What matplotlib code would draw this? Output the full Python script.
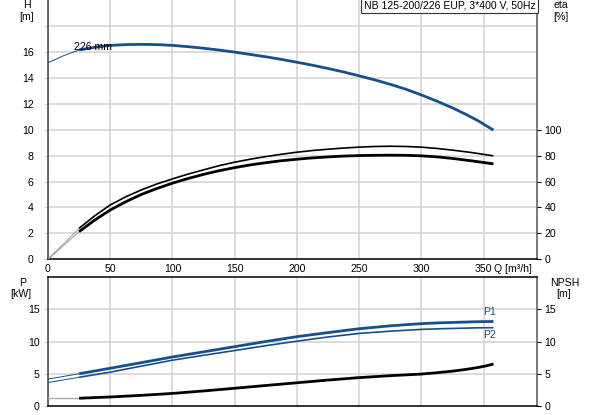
import matplotlib
matplotlib.use("Agg")
import matplotlib.pyplot as plt

plt.rcParams["font.family"] = ["Liberation Sans", "DejaVu Sans"]

BLUE = "#16508c"
GRID = "#d2d2d2"
FS = 7.6

# --- data ---
title = "NB 125-200/226 EUP, 3*400 V, 50Hz"

q_h = [0, 12.5, 25, 37.5, 50, 62.5, 75, 87.5, 100, 112.5, 125, 137.5, 150, 162.5, 175,
       187.5, 200, 212.5, 225, 237.5, 250, 262.5, 275, 287.5, 300, 312.5, 325, 335, 345, 358]
head = [15.15, 15.7, 16.15, 16.35, 16.5, 16.56, 16.58, 16.56, 16.5, 16.4, 16.28, 16.14,
        15.98, 15.8, 15.62, 15.42, 15.2, 14.97, 14.72, 14.45, 14.15, 13.84, 13.5, 13.12,
        12.68, 12.2, 11.68, 11.22, 10.72, 9.96]

q_eta = [0, 25, 37.5, 50, 62.5, 75, 87.5, 100, 112.5, 125, 137.5, 150, 162.5, 175, 187.5,
         200, 212.5, 225, 237.5, 250, 262.5, 275, 287.5, 300, 312.5, 325, 340, 358]
eta_p = [0, 23.9, 33.5, 41.9, 48.2, 53.5, 58.1, 62, 65.7, 69, 72.2, 74.9, 77.2, 79.2, 81.0,
         82.6, 83.9, 84.9, 85.8, 86.5, 87.0, 87.2, 87.0, 86.5, 85.5, 84.2, 82.4, 79.8]
eta_tot = [0, 21.3, 30.2, 38, 44.4, 50, 54.6, 58.7, 62.3, 65.5, 68.3, 70.7, 72.8, 74.5, 76,
           77.2, 78.2, 79, 79.6, 80, 80.2, 80.3, 80.2, 79.8, 79, 77.8, 76, 73.6]

q_p = [0, 25, 50, 75, 100, 125, 150, 175, 200, 225, 250, 275, 300, 315, 330, 345, 358]
p1 = [4.17, 5.0, 5.85, 6.72, 7.6, 8.4, 9.2, 10.0, 10.75, 11.38, 11.98, 12.43, 12.77, 12.9,
      12.98, 13.07, 13.1]
p2 = [3.64, 4.45, 5.25, 6.18, 7.1, 7.86, 8.6, 9.35, 10.05, 10.7, 11.25, 11.6, 11.88, 11.98,
      12.05, 12.12, 12.14]

q_npsh = [0, 25, 50, 75, 100, 125, 150, 175, 200, 225, 250, 275, 300, 312, 325, 335, 345,
          352, 358]
npsh = [1.2, 1.2, 1.4, 1.65, 1.95, 2.33, 2.75, 3.18, 3.6, 4.02, 4.4, 4.7, 4.95, 5.15, 5.4,
        5.65, 5.95, 6.22, 6.5]

Q_MIN = 25  # start of the operating range (thick lines)


def split(q, v):
    lo = [(a, b) for a, b in zip(q, v) if a <= Q_MIN]
    hi = [(a, b) for a, b in zip(q, v) if a >= Q_MIN]
    return list(zip(*lo)), list(zip(*hi))


def style(ax, left_pad):
    ax.set_xlim(0, 393)
    ax.set_xticks(range(0, 351, 50))
    ax.grid(True, color=GRID, linewidth=1.1)
    ax.set_axisbelow(True)
    ax.tick_params(axis="y", which="both", length=3, color=GRID, labelsize=FS, pad=left_pad)
    ax.tick_params(axis="x", length=0, labelsize=FS, pad=3.5)
    ax.spines["left"].set_color("#404040")
    ax.spines["right"].set_color("#555555")
    for s in ax.spines.values():
        s.set_linewidth(1.1)


fig = plt.figure(figsize=(5.93, 4.15), dpi=100)
ax = fig.add_axes([0.0809, 0.3752, 0.8247, 0.6248])
axp = fig.add_axes([0.0809, 0.0217, 0.8247, 0.3108])

# ---- top: head + efficiency ----
style(ax, 7.2)
ax.spines["top"].set_visible(False)
ax.spines["bottom"].set_color("black")
ax.set_ylim(0, 20)
ax.set_yticks(range(0, 19, 2))
ax.set_yticklabels([str(v) if v < 18 else "" for v in range(0, 19, 2)])

lo, hi = split(q_h, head)
ax.plot(*lo, color=BLUE, lw=0.7)
ax.plot(*hi, color=BLUE, lw=2.0, solid_capstyle="butt")
ax.text(21, 16.4, "226 mm", fontsize=FS, va="center", ha="left")

ax2 = ax.twinx()
ax2.set_ylim(0, 200)
ax2.set_yticks(range(0, 101, 20))
ax2.tick_params(axis="y", length=3, color="black", labelsize=FS, pad=2.5)
for s in ax2.spines.values():
    s.set_visible(False)

for vals, lw in [(eta_p, 1.2), (eta_tot, 2.0)]:
    lo, hi = split(q_eta, vals)
    ax2.plot(*lo, color="#999999", lw=0.7)
    ax2.plot(*hi, color="black", lw=lw, solid_capstyle="butt")

ax.text(0.997, 0.997, title, transform=ax.transAxes, ha="right", va="top", fontsize=FS,
        bbox=dict(boxstyle="square,pad=0.25", fc="white", ec="#333333", lw=0.8), zorder=10)

# ---- bottom: power + NPSH ----
style(axp, 3)
axp.spines["top"].set_color("black")
axp.spines["bottom"].set_color("black")
axp.set_ylim(0, 20)
axp.set_yticks(range(0, 16, 5))
axp.set_xticklabels([])

for vals, lw in [(p1, 2.0), (p2, 1.2)]:
    lo, hi = split(q_p, vals)
    axp.plot(*lo, color=BLUE, lw=0.7)
    axp.plot(*hi, color=BLUE, lw=lw, solid_capstyle="butt")
axp.text(350, 14.5, "P1", fontsize=FS, color=BLUE, va="center")
axp.text(350, 11.0, "P2", fontsize=FS, color=BLUE, va="center")

axn = axp.twinx()
axn.set_ylim(0, 20)
axn.set_yticks(range(0, 16, 5))
axn.tick_params(axis="y", length=3, color="black", labelsize=FS, pad=2.5)
for s in axn.spines.values():
    s.set_visible(False)
lo, hi = split(q_npsh, npsh)
axn.plot(*lo, color="#aaaaaa", lw=1.0)
axn.plot(*hi, color="black", lw=2.0, solid_capstyle="butt")

# axis captions
fig.text(27 / 593, 1 - 5 / 415, "H", fontsize=FS, ha="center", va="center")
fig.text(27 / 593, 1 - 17 / 415, "[m]", fontsize=FS, ha="center", va="center")
fig.text(561 / 593, 1 - 5 / 415, "eta", fontsize=FS, ha="center", va="center")
fig.text(561 / 593, 1 - 17 / 415, "[%]", fontsize=FS, ha="center", va="center")
fig.text(23 / 593, 1 - 283 / 415, "P", fontsize=FS, ha="center", va="center")
fig.text(21 / 593, 1 - 294 / 415, "[kW]", fontsize=FS, ha="center", va="center")
fig.text(565 / 593, 1 - 283 / 415, "NPSH", fontsize=FS, ha="center", va="center")
fig.text(564 / 593, 1 - 294 / 415, "[m]", fontsize=FS, ha="center", va="center")
fig.text(494 / 593, 1 - 268.5 / 415, "Q [m³/h]", fontsize=FS, ha="left", va="center")

fig.savefig("out.png", dpi=100)
